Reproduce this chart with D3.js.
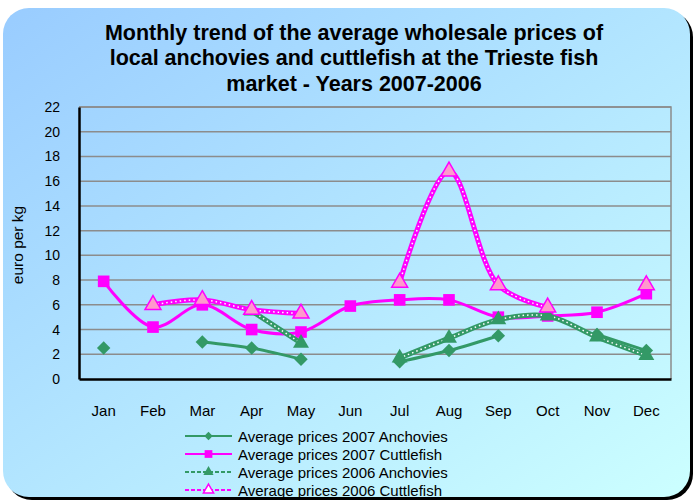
<!DOCTYPE html>
<html>
<head>
<meta charset="utf-8">
<script src="https://cdn.jsdelivr.net/npm/d3@7"></script>
<style>
  body { margin: 0; background: #fff; }
  svg { display: block; font-family: "Liberation Sans", Arial, sans-serif; }
</style>
</head>
<body>
<svg width="694" height="502"></svg>
<script>
// months and the four series (null = no data that month)
let months = ["Jan","Feb","Mar","Apr","May","Jun","Jul","Aug","Sep","Oct","Nov","Dec"];
let anch2007 = [2.5, null, 3.0, 2.5, 1.6, null, 1.4, 2.3, 3.5, null, 3.6, 2.3];
let cuttle2007 = [7.9, 4.2, 6.0, 4.0, 3.8, 5.9, 6.4, 6.4, 5.0, 5.1, 5.4, 6.9];
let anch2006 = [null, null, null, 5.5, 2.9, null, 1.7, 3.3, 4.8, 5.1, 3.4, 1.9];
let cuttle2006 = [null, 6.0, 6.4, 5.6, 5.3, null, 7.8, 16.8, 7.6, 5.8, null, 7.6];
let yTicks = d3.range(0, 23, 2);
let titleLines = ["Monthly trend of the average wholesale prices of",
                  "local anchovies and cuttlefish at the Trieste fish",
                  "market  - Years 2007-2006"];

let series = [
  {name: "Average prices 2007 Anchovies", values: anch2007, color: "#339966", marker: "diamond", dotted: false},
  {name: "Average prices 2007 Cuttlefish", values: cuttle2007, color: "#ff00ff", marker: "square", dotted: false},
  {name: "Average prices 2006 Anchovies", values: anch2006, color: "#339966", marker: "triangle", dotted: true},
  {name: "Average prices 2006 Cuttlefish", values: cuttle2006, color: "#ff00ff", marker: "triangle", dotted: true, fill: "#ff99cc"}
];

let svg = d3.select("svg");
let defs = svg.append("defs");
let grad = defs.append("linearGradient").attr("id", "bg")
    .attr("x1", 0).attr("y1", 0).attr("x2", 1).attr("y2", 1);
grad.append("stop").attr("offset", 0).attr("stop-color", "#99ccff");
grad.append("stop").attr("offset", 1).attr("stop-color", "#ccffff");

// background panel with shadow
svg.append("rect").attr("x", 6).attr("y", 11).attr("width", 687).attr("height", 489)
    .attr("rx", 26).attr("fill", "#000");
svg.append("rect").attr("x", 3).attr("y", 8).attr("width", 687).attr("height", 489)
    .attr("rx", 26).attr("fill", "url(#bg)");

// title
svg.append("g").selectAll("text").data(titleLines).enter().append("text")
    .attr("x", 354).attr("y", (d, i) => 39.5 + i * 25.5)
    .attr("text-anchor", "middle").attr("font-size", 21.5).attr("font-weight", "bold")
    .attr("fill", "#000").text(d => d);

let pLeft = 79, pRight = 671, pTop = 107, pBottom = 379;
let x = d3.scaleBand().domain(months).range([pLeft, pRight]);
let y = d3.scaleLinear().domain([0, 22]).range([pBottom, pTop]);
let cx = m => x(m) + x.bandwidth() / 2;

// gridlines
svg.append("g").selectAll("line").data(yTicks.filter(d => d > 0)).enter().append("line")
    .attr("x1", pLeft).attr("x2", pRight).attr("y1", d => y(d)).attr("y2", d => y(d))
    .attr("stroke", "#8c8c8c").attr("stroke-width", 1.5);
// plot border (top/right gray)
svg.append("path").attr("d", `M${pLeft},${pTop}H${pRight}V${pBottom}`)
    .attr("fill", "none").attr("stroke", "#8c8c8c").attr("stroke-width", 1.5);

// axes
let yAxis = svg.append("g").attr("transform", `translate(${pLeft},0)`)
    .call(d3.axisLeft(y).tickValues(yTicks).tickSize(0).tickPadding(19));
let xAxis = svg.append("g").attr("transform", `translate(0,${pBottom})`)
    .call(d3.axisBottom(x).tickSize(0).tickPadding(26));
[yAxis, xAxis].forEach(a => {
  a.select(".domain").attr("stroke", "#000").attr("stroke-width", 2.5);
  a.selectAll("text").attr("fill", "#000")
    .attr("font-family", "Liberation Sans, Arial, sans-serif");
});
yAxis.selectAll("text").attr("font-size", 14);
xAxis.selectAll("text").attr("font-size", 15);

svg.append("text").attr("transform", "translate(23,245) rotate(-90)")
    .attr("text-anchor", "middle").attr("font-size", 15.5).text("euro per kg");

// marker shapes
let sym = {
  diamond: d3.symbol().type(d3.symbolDiamond2).size(115),
  square: d3.symbol().type(d3.symbolSquare).size(135),
  triangle: d3.symbol().type(d3.symbolTriangle).size(110)
};

let line = d3.line()
    .defined(d => d.v != null)
    .x(d => cx(d.m)).y(d => y(d.v))
    .curve(d3.curveCatmullRom.alpha(0.5));

let plot = svg.append("g");
series.forEach(s => {
  let pts = s.values.map((v, i) => ({m: months[i], v: v}));
  plot.append("path").datum(pts).attr("d", line).attr("fill", "none")
      .attr("stroke", s.color).attr("stroke-width", s.dotted ? 5 : 3);
  if (s.dotted) {
    plot.append("path").datum(pts).attr("d", line).attr("fill", "none")
        .attr("stroke", "#fff").attr("stroke-width", 1.5)
        .attr("stroke-dasharray", "1.5,3");
  }
  plot.append("g").selectAll("path").data(pts.filter(d => d.v != null)).enter().append("path")
      .attr("d", sym[s.marker])
      .attr("transform", d => `translate(${cx(d.m)},${y(d.v)})`)
      .attr("fill", s.fill || s.color)
      .attr("stroke", s.color).attr("stroke-width", s.fill ? 1.5 : 0);
});

// legend
let legend = svg.append("g").selectAll("g").data(series).enter().append("g")
    .attr("transform", (d, i) => `translate(185,${436 + i * 18})`);
legend.append("line").attr("x1", 0).attr("x2", 47)
    .attr("stroke", d => d.color).attr("stroke-width", 2)
    .attr("stroke-dasharray", d => d.dotted ? "4,2" : null);
legend.append("path")
    .attr("d", d => d3.symbol().type(d.marker === "diamond" ? d3.symbolDiamond2 : d.marker === "square" ? d3.symbolSquare : d3.symbolTriangle).size(d.marker === "square" ? 60 : 45)())
    .attr("transform", "translate(23.5,0)")
    .attr("fill", d => d.marker === "triangle" && d.fill ? "#fff" : d.color)
    .attr("stroke", d => d.color).attr("stroke-width", d => d.fill ? 1.5 : 0);
legend.append("text").attr("x", 53).attr("y", 5.5).attr("font-size", 15).attr("fill", "#000")
    .text(d => d.name);
</script>
</body>
</html>
